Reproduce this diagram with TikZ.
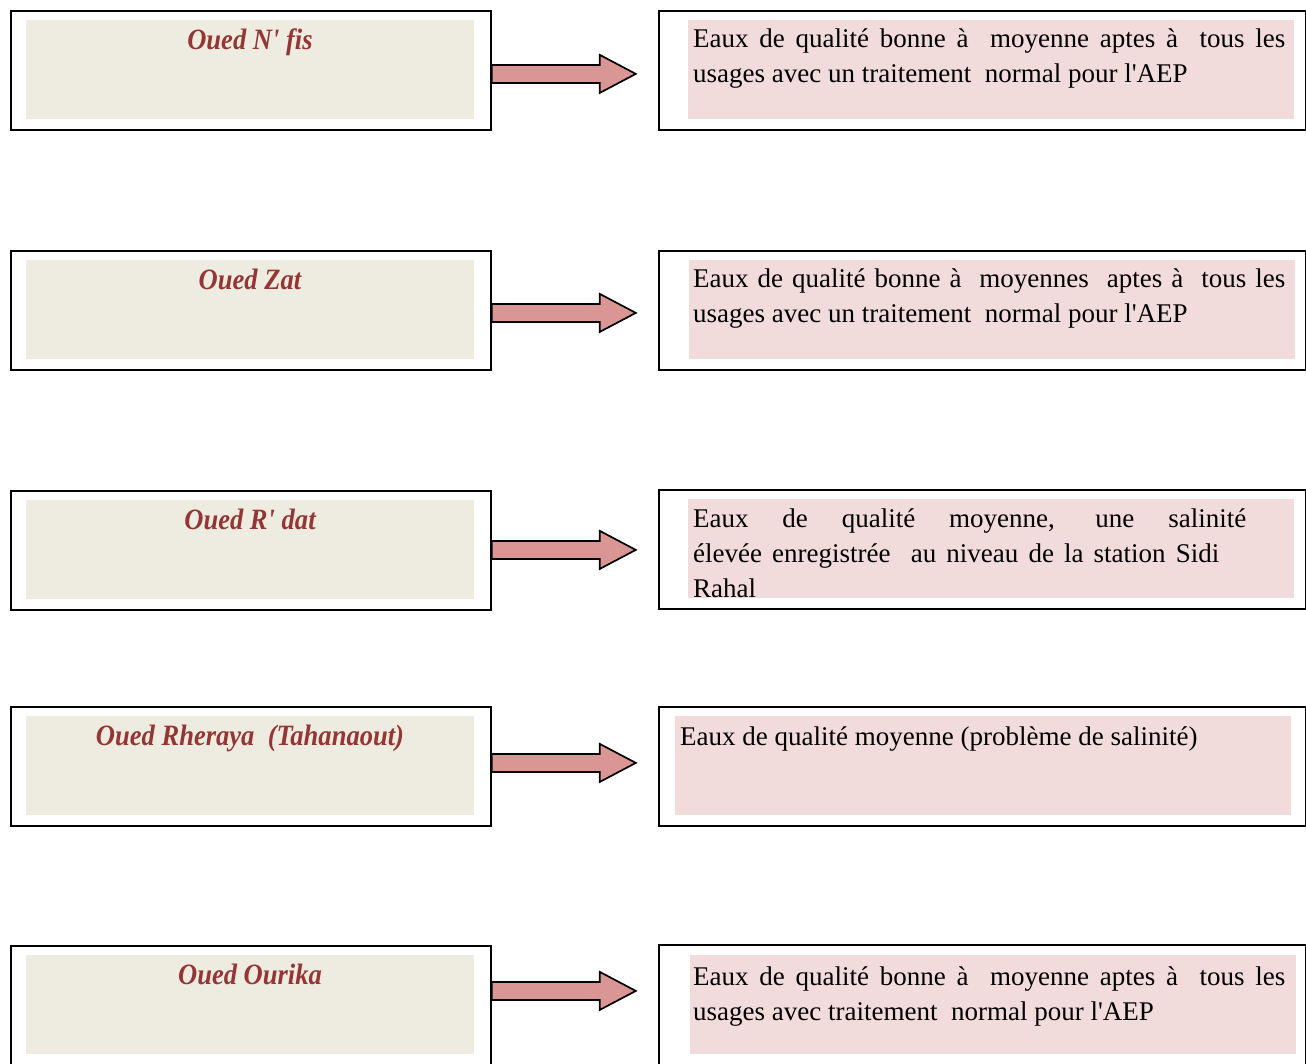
\documentclass[tikz,border=0pt]{standalone}
\usepackage{fontspec}
\setmainfont{Liberation Serif}[Ligatures=TeXOff]
\newfontfamily\titlefont{Liberation Serif}[FakeStretch=0.9]
\definecolor{sandfill}{HTML}{EEECE1}
\definecolor{rosefill}{HTML}{F2DCDB}
\definecolor{arrowfill}{HTML}{D99694}
\definecolor{titlered}{HTML}{943634}
\newcommand{\apos}{\symbol{39}}
\tikzset{
  framebox/.style={draw=black, line width=1.8pt, fill=white, rectangle, inner sep=0pt, anchor=north west, minimum height=119pt},
  srcfill/.style={fill=sandfill, rectangle, inner sep=0pt, anchor=north west, minimum width=448pt, minimum height=99pt},
  dstfill/.style={fill=rosefill, rectangle, inner sep=0pt, anchor=north west, minimum width=606pt, minimum height=99pt},
  srctitle/.style={anchor=base, inner sep=0pt, text=titlered, font=\titlefont\fontsize{29.5}{34}\selectfont\bfseries\itshape},
  dsttext/.style={anchor=base west, inner sep=0pt, font=\fontsize{27}{35}\selectfont},
  flowarrow/.style={draw=black, line width=1.7pt, fill=arrowfill, line join=miter},
}
% block arrow starting at a point on the left frame
\newcommand{\blockarrow}[1]{%
  \draw[flowarrow] (#1) ++(0,-9) -- ++(108,0) -- ++(0,-10) -- ++(36,19)
    -- ++(-36,19) -- ++(0,-10) -- ++(-108,0) -- cycle;}
\begin{document}
\begin{tikzpicture}[x=1pt, y=-1pt]
\useasboundingbox (0,0) rectangle (1306,1063);

% ---- row 1 : Oued N'fis
\node[framebox, minimum width=480pt] (L1) at (10,10) {};
\node[srcfill] (L1f) at (26,20) {};
\node[srctitle] (L1t) at (250,49) {Oued N\apos{} fis};
\node[framebox, minimum width=647pt] (R1) at (658,10) {};
\node[dstfill] (R1f) at (688,20) {};
\node[dsttext] (R1t) at (693,47) {\parbox[t]{592pt}{\makebox[592pt][s]{Eaux de qualité bonne à \ moyenne aptes à \ tous les}\\usages avec un traitement \ normal pour l\apos AEP}};
\coordinate (A1) at ([yshift=-3.5pt]L1.east);
\blockarrow{A1}

% ---- row 2 : Oued Zat
\node[framebox, minimum width=480pt] (L2) at (10,250) {};
\node[srcfill] (L2f) at (26,260) {};
\node[srctitle] (L2t) at (250,289) {Oued Zat};
\node[framebox, minimum width=647pt] (R2) at (658,250) {};
\node[dstfill] (R2f) at (689,260) {};
\node[dsttext] (R2t) at (693,287) {\parbox[t]{592pt}{\makebox[592pt][s]{Eaux de qualité bonne à \ moyennes \ aptes à \ tous les}\\usages avec un traitement \ normal pour l\apos AEP}};
\coordinate (A2) at ([yshift=-2.5pt]L2.east);
\blockarrow{A2}

% ---- row 3 : Oued R'dat
\node[framebox, minimum width=480pt] (L3) at (10,490) {};
\node[srcfill] (L3f) at (26,500) {};
\node[srctitle] (L3t) at (250,529) {Oued R\apos{} dat};
\node[framebox, minimum width=647pt] (R3) at (658,489) {};
\node[dstfill] (R3f) at (688,499) {};
\node[dsttext] (R3t) at (693,527) {\parbox[t]{600pt}{\makebox[553pt][s]{Eaux de qualité moyenne, une salinité}\\\makebox[526pt][s]{élevée enregistrée \ au niveau de la station Sidi}\\Rahal}};
\coordinate (A3) at ([yshift=0.5pt]L3.east);
\blockarrow{A3}

% ---- row 4 : Oued Rheraya
\node[framebox, minimum width=480pt] (L4) at (10,706) {};
\node[srcfill] (L4f) at (26,716) {};
\node[srctitle] (L4t) at (250,745) {Oued Rheraya \ (Tahanaout)};
\node[framebox, minimum width=647pt] (R4) at (658,706) {};
\node[dstfill, minimum width=616pt] (R4f) at (675,716) {};
\node[dsttext] (R4t) at (680,745) {Eaux de qualité moyenne (problème de salinité)};
\coordinate (A4) at ([yshift=3.5pt]L4.east);
\blockarrow{A4}

% ---- row 5 : Oued Ourika (frames run past the lower edge)
\node[framebox, minimum width=480pt, minimum height=124pt] (L5) at (10,945) {};
\node[srcfill] (L5f) at (26,955) {};
\node[srctitle] (L5t) at (250,984) {Oued Ourika};
\node[framebox, minimum width=647pt, minimum height=124pt] (R5) at (658,944) {};
\node[dstfill] (R5f) at (690,955) {};
\node[dsttext] (R5t) at (693,985) {\parbox[t]{592pt}{\makebox[592pt][s]{Eaux de qualité bonne à \ moyenne aptes à \ tous les}\\usages avec traitement \ normal pour l\apos AEP}};
\coordinate (A5) at ([yshift=17pt]L5.east);
\blockarrow{A5}
\end{tikzpicture}
\end{document}
